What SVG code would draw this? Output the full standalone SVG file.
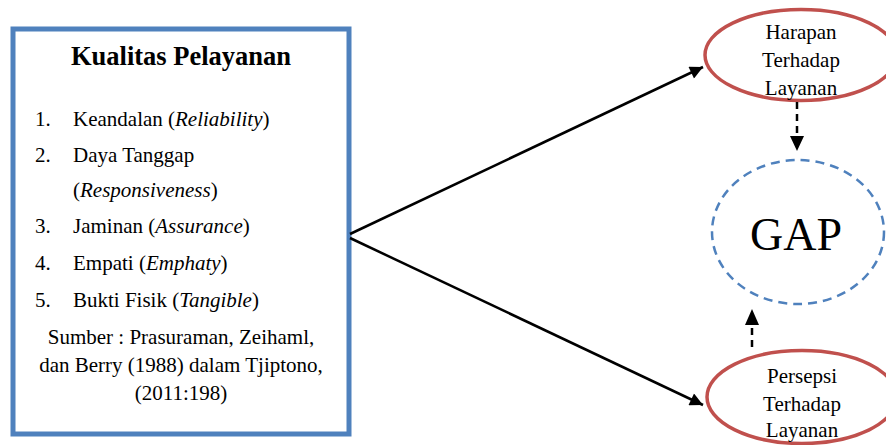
<svg xmlns="http://www.w3.org/2000/svg" width="886" height="445" viewBox="0 0 886 445">
  <style>
    text { font-family: "Liberation Serif", "Times New Roman", Times, Tinos, "DejaVu Serif", serif; fill: #000; }
    .title { font-size: 26.5px; font-weight: bold; }
    .item { font-size: 21px; }
    .src { font-size: 21px; text-anchor: middle; }
    .node { font-size: 21px; text-anchor: middle; }
    .gap { font-size: 46px; text-anchor: middle; }
    .box { fill: #fff; stroke: #4F81BD; stroke-width: 5; }
    .oval { fill: none; stroke: #C0504D; stroke-width: 3.5; }
    .dashed-circle { fill: none; stroke: #4F81BD; stroke-width: 2.5; stroke-dasharray: 9 6; }
    .solid { stroke: #000; stroke-width: 2.5; fill: none; }
    .dash { stroke: #000; stroke-width: 2.5; fill: none; stroke-dasharray: 7 5; }
  </style>
  <defs>
    <marker id="arrow" viewBox="0 0 10 10" refX="10" refY="5" markerUnits="userSpaceOnUse" markerWidth="15" markerHeight="13" orient="auto">
      <path d="M0,0 L10,5 L0,10 z" fill="#000"/>
    </marker>
  </defs>

  <rect width="886" height="445" fill="#fff"/>

  <g id="kualitas-pelayanan">
    <rect class="box" x="13" y="29" width="336" height="405"/>
    <text class="title" x="181" y="65" text-anchor="middle" font-family="Liberation Serif, serif">Kualitas Pelayanan</text>
    <text class="item" x="35" y="126">1.</text>
    <text class="item" x="73" y="126">Keandalan (<tspan font-style="italic">Reliability</tspan>)</text>
    <text class="item" x="35" y="162">2.</text>
    <text class="item" x="73" y="162">Daya Tanggap</text>
    <text class="item" x="73" y="197">(<tspan font-style="italic">Responsiveness</tspan>)</text>
    <text class="item" x="35" y="233">3.</text>
    <text class="item" x="73" y="233">Jaminan (<tspan font-style="italic">Assurance</tspan>)</text>
    <text class="item" x="35" y="270">4.</text>
    <text class="item" x="73" y="270">Empati (<tspan font-style="italic">Emphaty</tspan>)</text>
    <text class="item" x="35" y="307">5.</text>
    <text class="item" x="73" y="307">Bukti Fisik (<tspan font-style="italic">Tangible</tspan>)</text>
    <text class="src" x="181" y="344">Sumber : Prasuraman, Zeihaml,</text>
    <text class="src" x="181" y="372">dan Berry (1988) dalam Tjiptono,</text>
    <text class="src" x="181" y="400">(2011:198)</text>
  </g>

  <g id="harapan">
    <ellipse class="oval" cx="801" cy="55" rx="96" ry="45.5"/>
    <text class="node" x="801" y="39">Harapan</text>
    <text class="node" x="801" y="67">Terhadap</text>
    <text class="node" x="801" y="95">Layanan</text>
  </g>

  <g id="gap">
    <ellipse class="dashed-circle" cx="798" cy="232" rx="86" ry="72"/>
    <text class="gap" x="796" y="250">GAP</text>
  </g>

  <g id="persepsi">
    <ellipse class="oval" cx="802" cy="397" rx="95" ry="46.5"/>
    <text class="node" x="802" y="383">Persepsi</text>
    <text class="node" x="802" y="411">Terhadap</text>
    <text class="node" x="802" y="437">Layanan</text>
  </g>

  <g id="connectors">
    <line class="solid" x1="350" y1="234" x2="703" y2="67" marker-end="url(#arrow)"/>
    <line class="solid" x1="350" y1="238" x2="703" y2="405" marker-end="url(#arrow)"/>
    <line class="dash" x1="797" y1="102" x2="797" y2="136"/>
    <path d="M790,136 L804,136 L797,151 z" fill="#000"/>
    <line class="dash" x1="752" y1="347" x2="752" y2="325"/>
    <path d="M745,325 L759,325 L752,309 z" fill="#000"/>
  </g>
</svg>
